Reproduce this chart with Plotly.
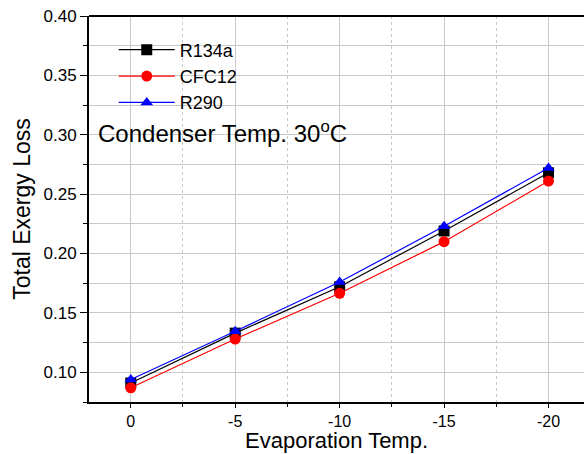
import plotly.graph_objects as go

# Evaporation temperatures (deg C) and total exergy loss per refrigerant
evap_temp = [0, -5, -10, -15, -20]
evap_labels = ["0", "-5", "-10", "-15", "-20"]
r134a = [0.091, 0.133, 0.172, 0.219, 0.268]
cfc12 = [0.087, 0.128, 0.1665, 0.210, 0.261]
r290 = [0.094, 0.1345, 0.176, 0.223, 0.272]

series = [
    ("R134a", r134a, "black", "square"),
    ("CFC12", cfc12, "red", "circle"),
    ("R290", r290, "blue", "triangle-up"),
]

fig = go.Figure()
for name, vals, color, symbol in series:
    fig.add_trace(go.Scatter(
        x=evap_temp, y=vals, name=name, mode="lines+markers",
        line=dict(color=color, width=1.2),
        marker=dict(symbol=symbol, size=11, color=color),
    ))

font = "Liberation Sans, Arial, sans-serif"
fig.update_layout(
    width=584, height=454,
    margin=dict(l=89, r=0, t=16, b=52, autoexpand=False),
    paper_bgcolor="white", plot_bgcolor="white",
    font=dict(family=font, color="black"),
    showlegend=True,
    legend=dict(
        x=0.05, y=0.96, xanchor="left", yanchor="top",
        font=dict(size=18, family=font), bgcolor="rgba(0,0,0,0)",
        tracegroupgap=0, itemwidth=56,
    ),
    xaxis=dict(
        range=[2, -21.7], tickmode="array", tickvals=evap_temp,
        ticktext=evap_labels, automargin=False,
        showline=True, linecolor="black", linewidth=2, mirror=False,
        ticks="outside", ticklen=4, tickcolor="black",
        tickfont=dict(size=16), zeroline=False,
        showgrid=True, gridcolor="#c8c8c8", gridwidth=1,
        minor=dict(tickmode="linear", dtick=2.5, tick0=0, ticks="outside",
                   ticklen=3, tickcolor="black", showgrid=True,
                   gridcolor="#c8c8c8", griddash="dot", gridwidth=1),
    ),
    yaxis=dict(
        range=[0.075, 0.40], tickmode="linear", tick0=0.1, dtick=0.05,
        tickformat=".2f", automargin=False,
        showline=True, linecolor="black", linewidth=2,
        ticks="outside", ticklen=7, tickcolor="black",
        tickfont=dict(size=17), zeroline=False,
        showgrid=True, gridcolor="#c8c8c8", gridwidth=1,
        minor=dict(dtick=0.025, tick0=0.1, ticks="outside", ticklen=4,
                   tickcolor="black", showgrid=True, gridcolor="#c8c8c8",
                   gridwidth=1),
        title=dict(text="Total Exergy Loss", font=dict(size=23), standoff=6),
    ),
    shapes=[dict(type="line", xref="paper", yref="paper", x0=0, x1=1,
                 y0=1, y1=1, line=dict(color="black", width=2))],
    annotations=[
        dict(text="Condenser Temp. 30<sup>o</sup>C", xref="paper",
             yref="paper", x=0.014, y=0.70, xanchor="left",
             yanchor="middle", showarrow=False,
             font=dict(size=24, family=font)),
        # x-axis title placed below the tick labels
        dict(text="Evaporation Temp.", xref="paper", yref="paper",
             x=0.5, y=-0.101, xanchor="center", yanchor="middle",
             showarrow=False, font=dict(size=22, family=font)),
    ],
)

fig.write_html("out.html")
